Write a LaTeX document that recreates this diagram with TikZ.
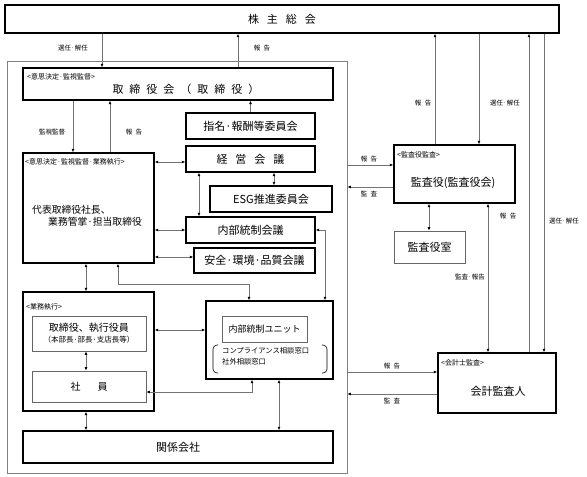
\documentclass[tikz,border=0pt]{standalone}
\usepackage{fontspec}
\setmainfont{Noto Sans CJK JP}
\usetikzlibrary{arrows.meta}
\newcommand\jgap{\hspace{6pt}}
\begin{document}
\begin{tikzpicture}[x=1pt, y=-1pt,
  box/.style={draw, line width=1.4pt, inner sep=0pt, font=\fontsize{11}{13}\selectfont},
  subbox/.style={draw=black!60, line width=0.7pt, inner sep=0pt, font=\fontsize{10}{12}\selectfont},
  txt/.style={inner sep=0pt, font=\fontsize{11}{13}\selectfont},
  tag/.style={inner sep=0pt, anchor=west, font=\fontsize{7}{8}\selectfont},
  note/.style={inner sep=0pt, font=\fontsize{6.5}{8}\selectfont},
  link/.style={black!55, line width=0.7pt},
  >={Latex[length=3.5pt, width=3pt, color=black]}]
\useasboundingbox (0,0) rectangle (587,477);

% shareholders, company frame
\node[box, minimum width=554, minimum height=28] (kabu) at (282,19) {株\hspace{8pt}主\hspace{8pt}総\hspace{8pt}会};
\node[draw=black!50, line width=0.8pt, minimum width=340, minimum height=412] (frame) at (177,267) {};

% board of directors
\node[box, minimum width=310, minimum height=32] (tori) at (178,84) {};
\node[tag] (toritag) at (27,77) {<意思決定·監視監督>};
\node[txt] (toritxt) at (186,89) {取\jgap 締\jgap 役\jgap 会\jgap （\jgap 取\jgap 締\jgap 役\jgap ）};

% committees
\node[box, minimum width=129, minimum height=26] (shimei) at (250.5,126) {指名·報酬等委員会};
\node[box, minimum width=129, minimum height=26] (keiei) at (250.5,159) {経\hspace{8pt}営\hspace{8pt}会\hspace{8pt}議};
\node[box, minimum width=122, minimum height=26] (esg) at (271,199) {ESG推進委員会};
\node[box, minimum width=129, minimum height=26] (naibu) at (250.5,230) {内部統制会議};
\node[box, minimum width=121, minimum height=25] (anzen) at (254.5,260.5) {安全·環境·品質会議};

% president
\node[box, minimum width=131, minimum height=110] (daihyo) at (88.5,208) {};
\node[tag] (daihyotag) at (25,162) {<意思決定·監視監督·業務執行>};
\node[txt, anchor=west, font=\fontsize{9.8}{11}\selectfont] (daihyo1) at (32,210) {代表取締役社長、};
\node[txt, anchor=west, font=\fontsize{9.8}{11}\selectfont] (daihyo2) at (48,222) {業務管掌·担当取締役};

% execution
\node[box, minimum width=131, minimum height=119] (gyomu) at (88.5,351.5) {};
\node[tag] (gyomutag) at (26,307) {<業務執行>};
\node[subbox, minimum width=114, minimum height=35, align=center] (yakuin) at (89,333.5)
  {取締役、執行役員\\[-1pt]{\fontsize{7.5}{9}\selectfont （本部長·部長·支店長等）}};
\node[subbox, minimum width=114, minimum height=31] (shain) at (89,386.5) {社\hspace{17pt}員};

% internal control unit
\node[box, minimum width=127, minimum height=78] (unit) at (269.5,340) {};
\node[subbox, minimum width=85, minimum height=26, font=\fontsize{9}{11}\selectfont] (unitin) at (264.5,329) {内部統制ユニット};
\node[txt, anchor=north west, align=left, font=\fontsize{7.3}{11}\selectfont] (madoguchi) at (222,347)
  {コンプライアンス相談窓口\\社外相談窓口};
\draw[line width=0.6pt, rounded corners=4pt] (218,345) -- (213,345) -- (213,373) -- (218,373);
\draw[line width=0.6pt, rounded corners=4pt] (322,345) -- (327,345) -- (327,373) -- (322,373);

\node[box, minimum width=310, minimum height=32] (kankei) at (178,447) {関係会社};

% auditors
\node[box, minimum width=121, minimum height=58] (kansa) at (454.5,174) {};
\node[tag] (kansatag) at (397,155) {<監査役監査>};
\node[txt] (kansatxt) at (453,183) {監査役(監査役会)};
\node[subbox, minimum width=71, minimum height=32, font=\fontsize{11}{13}\selectfont] (kansashitsu) at (429.5,247) {監査役室};
\node[box, minimum width=118, minimum height=60] (kaikei) at (497,383) {};
\node[tag] (kaikeitag) at (441,363) {<会計士監査>};
\node[txt] (kaikeitxt) at (498,391) {会計監査人};

% connectors, left part
\draw[link,->] (kabu.south -| 102,0) -- (tori.north -| 102,0);
\draw[link,->] (tori.north -| 238,0) -- (kabu.south -| 238,0);
\draw[link,->] (tori.south -| 73,0) -- (daihyo.north -| 73,0);
\draw[link,->] (daihyo.north -| 110,0) -- (tori.south -| 110,0);
\draw[link,->] (shimei.north) -- (tori.south -| shimei.north);
\draw[link,<->] (daihyo.east |- 0,162) -- (keiei.west |- 0,162);
\draw[link,<->] (daihyo.east |- 0,230) -- (naibu.west |- 0,230);
\draw[link,<->] (daihyo.east |- 0,257) -- (anzen.west |- 0,257);
\draw[link,<->] (keiei.south -| 199,0) -- (naibu.north -| 199,0);
\draw[link,<->] (keiei.south -| 274,0) -- (esg.north -| 274,0);
\draw[link,<->] (naibu.east) -- (naibu.east -| 325,0) -- (unit.north -| 325,0);
\draw[link,<->] (daihyo.south -| 118,0) -- (118,284) -- (249,284) -- (unit.north -| 249,0);
\draw[link,<->] (daihyo.south -| 86,0) -- (gyomu.north -| 86,0);
\draw[link,<->] (yakuin.south -| 86,0) -- (shain.north -| 86,0);
\draw[link,<->] (gyomu.east |- 0,330) -- (unit.west |- 0,330);
\draw[link,<->] (unit.south -| 252,0) -- (252,392) -- (shain.east |- 0,392);
\draw[link,<->] (gyomu.south -| 86,0) -- (kankei.north -| 86,0);
\draw[link,<->] (unit.south -| 279,0) -- (kankei.north -| 279,0);

% connectors, right part
\draw[link,->] (frame.east |- 0,165) -- (kansa.west |- 0,165);
\draw[link,->] (kansa.west |- 0,187) -- (frame.east |- 0,187);
\draw[link,->] (kansa.north -| 435,0) -- (kabu.south -| 435,0);
\draw[link,->] (kabu.south -| 479,0) -- (kansa.north -| 479,0);
\draw[link,<->] (kansa.south -| 429,0) -- (kansashitsu.north -| 429,0);
\draw[link,<->] (kansa.south -| 488,0) -- (kaikei.north -| 488,0);
\draw[link,->] (kaikei.north -| 529,0) -- (kabu.south -| 529,0);
\draw[link,->] (kabu.south -| 544,0) -- (kaikei.north -| 544,0);
\draw[link,->] (frame.east |- 0,372) -- (kaikei.west |- 0,372);
\draw[link,->] (kaikei.west |- 0,394) -- (frame.east |- 0,394);

% labels
\foreach \n/\x/\y/\t in {1/73/48/選任·解任, 2/262/48/報\hspace{3.5pt}告, 3/52/132/監視監督,
                         4/134/132/報\hspace{3.5pt}告, 5/369/159/報\hspace{3.5pt}告, 6/369/194/監\hspace{3.5pt}査,
                         7/423/103/報\hspace{3.5pt}告, 8/505/103/選任·解任, 9/508/216/報\hspace{3.5pt}告,
                         10/470/277/監査·報告, 11/564/221/選任·解任, 12/392/366/報\hspace{3.5pt}告,
                         13/392/401/監\hspace{3.5pt}査}
    \node[note] (lab\n) at (\x,\y) {\t};
\end{tikzpicture}
\end{document}
